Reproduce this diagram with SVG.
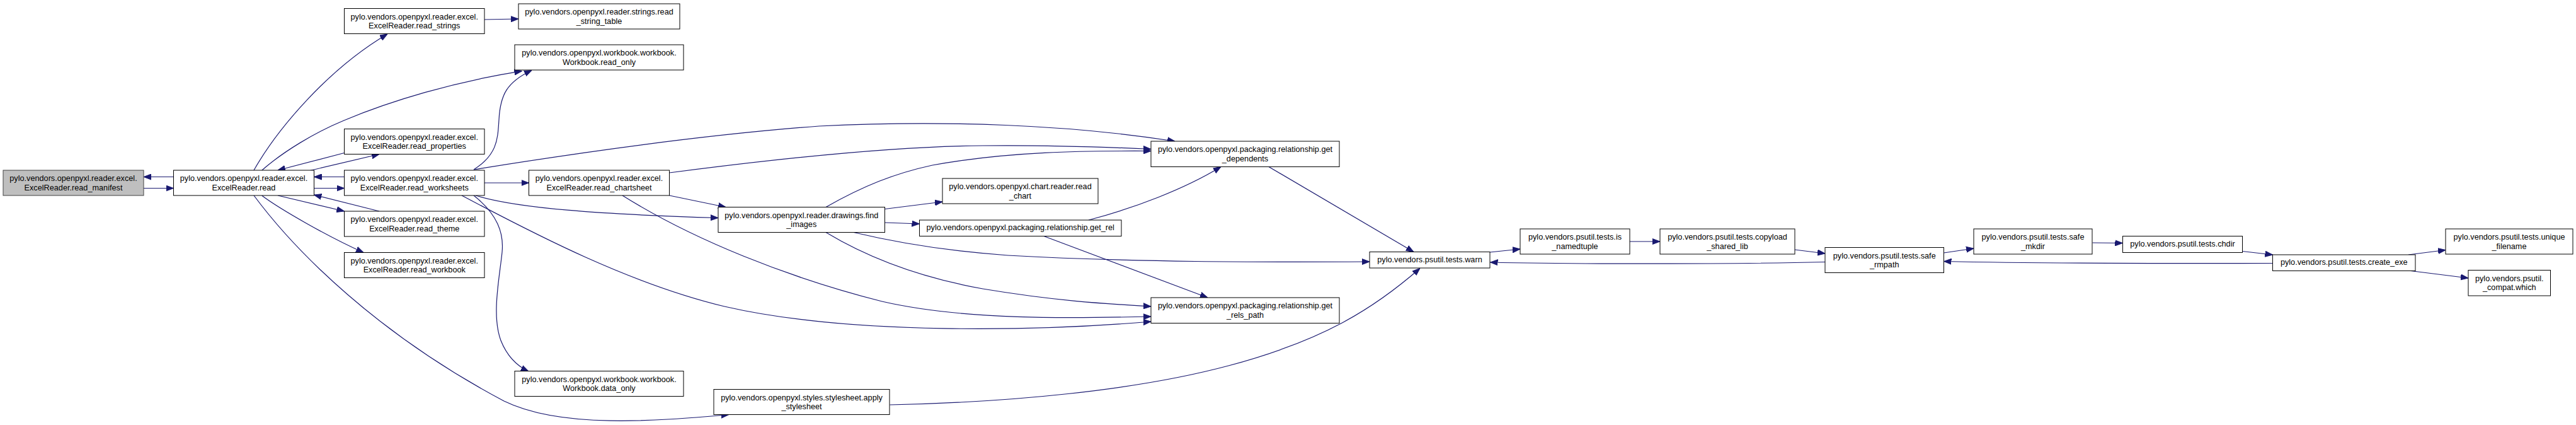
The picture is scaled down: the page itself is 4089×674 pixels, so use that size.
<svg xmlns="http://www.w3.org/2000/svg" width="4089" height="674" viewBox="0 0 4089 674">
<style>
.node rect{fill:#ffffff;stroke:#000000;stroke-width:1}
.node.root rect{fill:#bfbfbf;stroke:#404040}
.node text{font-family:"Liberation Sans",Arial,sans-serif;font-size:12.7px;text-anchor:middle;fill:#000000}
.edge{fill:none;stroke:#191970;stroke-width:1.2;marker-end:url(#ah)}
</style>
<defs>
<marker id="ah" viewBox="0 0 12 10" refX="12" refY="5" markerWidth="12" markerHeight="10" markerUnits="userSpaceOnUse" orient="auto">
<path d="M0,0.5 L12,5 L0,9.5 z" fill="#191970" stroke="#191970" stroke-width="1"/>
</marker>
</defs>
<rect x="0" y="0" width="4089" height="674" fill="#ffffff"/>
<g id="connectors">
<path class="edge" d="M275.5,280.5 L228,280.5"/>
<path class="edge" d="M228,298.5 L275.5,298.5"/>
<path class="edge" d="M403,270 C440,205 520,110 615,54"/>
<path class="edge" d="M769,31 L823,30"/>
<path class="edge" d="M415.8,270 C450,240 500,210 546,191 C620,160 720,130 828.5,112.6"/>
<path class="edge" d="M546.5,242.5 L441,270"/>
<path class="edge" d="M492,270.5 L602,244.5"/>
<path class="edge" d="M546.5,280.5 L498.5,280.5"/>
<path class="edge" d="M498.5,298.5 L546.5,298.5"/>
<path class="edge" d="M441,310 L546.5,335"/>
<path class="edge" d="M602,335 L498.5,309"/>
<path class="edge" d="M415.8,310.3 C445,332 520,375 577,400.5"/>
<path class="edge" d="M403,310 C470,400 600,530 800,636 C890,680 1040,668 1157,657.5"/>
<path class="edge" d="M752,269 C790,245 790,220 792,190 C794,150 805,130 844,111.5"/>
<path class="edge" d="M752,269 C900,245 1100,215 1300,200 C1500,190 1700,198 1865,224"/>
<path class="edge" d="M755,310 C820,330 950,340 1140,345.5"/>
<path class="edge" d="M769,290 L839.5,290"/>
<path class="edge" d="M752,310 C790,340 800,370 797,400 C793,440 780,500 795,540 C805,565 820,580 839,589"/>
<path class="edge" d="M1062.5,274 C1200,256 1400,232 1560,231 C1650,230 1750,233 1827,236.5"/>
<path class="edge" d="M1311,328.5 C1370,295 1420,275 1480,262 C1600,240 1720,239 1827,239.5"/>
<path class="edge" d="M1062.5,310 L1152,328.5"/>
<path class="edge" d="M988,310 C1100,380 1250,440 1400,478 C1530,508 1700,505 1827,502"/>
<path class="edge" d="M733,310 C850,372 1000,450 1150,486 C1350,532 1650,525 1827,510"/>
<path class="edge" d="M1404.5,331.5 L1496,320"/>
<path class="edge" d="M1404.5,353 L1459.5,355"/>
<path class="edge" d="M1355,368.5 C1420,384 1500,398 1600,405 C1800,416 2000,416 2174,415"/>
<path class="edge" d="M1311,368.5 C1380,410 1460,440 1560,458 C1680,478 1760,482 1827,486"/>
<path class="edge" d="M1728,349 C1800,330 1880,300 1938,264.5"/>
<path class="edge" d="M1657,374.5 L1917,472"/>
<path class="edge" d="M2014,264.5 L2244,399.5"/>
<path class="edge" d="M1412.5,642 C1600,638 1800,620 1950,580 C2100,540 2180,490 2254,425.5"/>
<path class="edge" d="M2365,400 L2413,395"/>
<path class="edge" d="M2587,383 L2635,383"/>
<path class="edge" d="M2849,396 L2897,402"/>
<path class="edge" d="M2897,415.5 C2750,419 2500,419 2365.5,416"/>
<path class="edge" d="M3085.5,401 L3133,394"/>
<path class="edge" d="M3321.5,385 L3369.5,385.5"/>
<path class="edge" d="M3559.5,398.5 L3607.5,404"/>
<path class="edge" d="M3607.5,417.5 C3400,418 3200,417 3085.5,414.5"/>
<path class="edge" d="M3823,404 L3882,396.5"/>
<path class="edge" d="M3826.5,429.5 L3918,441"/>
</g>
<g id="read_manifest" class="node root"><rect x="5" y="270" width="223" height="40"/><text x="116.5" y="287">pylo.vendors.openpyxl.reader.excel.</text><text x="116.5" y="301.5">ExcelReader.read_manifest</text></g>
<g id="read" class="node"><rect x="275.5" y="270" width="223" height="40"/><text x="387" y="287">pylo.vendors.openpyxl.reader.excel.</text><text x="387" y="301.5">ExcelReader.read</text></g>
<g id="read_strings" class="node"><rect x="546.5" y="13.5" width="222.5" height="40"/><text x="657.75" y="30.5">pylo.vendors.openpyxl.reader.excel.</text><text x="657.75" y="45">ExcelReader.read_strings</text></g>
<g id="read_properties" class="node"><rect x="546.5" y="204.5" width="222.5" height="40"/><text x="657.75" y="221.5">pylo.vendors.openpyxl.reader.excel.</text><text x="657.75" y="236">ExcelReader.read_properties</text></g>
<g id="read_worksheets" class="node"><rect x="546.5" y="270" width="222.5" height="40"/><text x="657.75" y="287">pylo.vendors.openpyxl.reader.excel.</text><text x="657.75" y="301.5">ExcelReader.read_worksheets</text></g>
<g id="read_theme" class="node"><rect x="546.5" y="335" width="222.5" height="40"/><text x="657.75" y="352">pylo.vendors.openpyxl.reader.excel.</text><text x="657.75" y="366.5">ExcelReader.read_theme</text></g>
<g id="read_workbook" class="node"><rect x="546.5" y="400.5" width="222.5" height="40"/><text x="657.75" y="417.5">pylo.vendors.openpyxl.reader.excel.</text><text x="657.75" y="432">ExcelReader.read_workbook</text></g>
<g id="read_string_table" class="node"><rect x="823" y="6" width="256" height="40"/><text x="951" y="23">pylo.vendors.openpyxl.reader.strings.read</text><text x="951" y="37.5">_string_table</text></g>
<g id="read_only" class="node"><rect x="817" y="71" width="268" height="40"/><text x="951" y="88">pylo.vendors.openpyxl.workbook.workbook.</text><text x="951" y="102.5">Workbook.read_only</text></g>
<g id="read_chartsheet" class="node"><rect x="839.5" y="270" width="223" height="40"/><text x="951" y="287">pylo.vendors.openpyxl.reader.excel.</text><text x="951" y="301.5">ExcelReader.read_chartsheet</text></g>
<g id="data_only" class="node"><rect x="817" y="588.5" width="268" height="40"/><text x="951" y="605.5">pylo.vendors.openpyxl.workbook.workbook.</text><text x="951" y="620">Workbook.data_only</text></g>
<g id="find_images" class="node"><rect x="1140" y="328.5" width="264.5" height="40"/><text x="1272.25" y="345.5">pylo.vendors.openpyxl.reader.drawings.find</text><text x="1272.25" y="360">_images</text></g>
<g id="apply_stylesheet" class="node"><rect x="1133" y="617.5" width="279" height="40"/><text x="1272.5" y="634.5">pylo.vendors.openpyxl.styles.stylesheet.apply</text><text x="1272.5" y="649">_stylesheet</text></g>
<g id="read_chart" class="node"><rect x="1496" y="283" width="247" height="40"/><text x="1619.5" y="300">pylo.vendors.openpyxl.chart.reader.read</text><text x="1619.5" y="314.5">_chart</text></g>
<g id="get_rel" class="node"><rect x="1459.5" y="349" width="320.5" height="25.5"/><text x="1619.75" y="365">pylo.vendors.openpyxl.packaging.relationship.get_rel</text></g>
<g id="get_dependents" class="node"><rect x="1827" y="224" width="299" height="40.5"/><text x="1976.5" y="241">pylo.vendors.openpyxl.packaging.relationship.get</text><text x="1976.5" y="255.5">_dependents</text></g>
<g id="get_rels_path" class="node"><rect x="1827" y="472" width="299" height="40.5"/><text x="1976.5" y="489">pylo.vendors.openpyxl.packaging.relationship.get</text><text x="1976.5" y="503.5">_rels_path</text></g>
<g id="warn" class="node"><rect x="2174" y="399.5" width="191" height="25.5"/><text x="2269.5" y="415.5">pylo.vendors.psutil.tests.warn</text></g>
<g id="is_namedtuple" class="node"><rect x="2413" y="363" width="174" height="40"/><text x="2500" y="380">pylo.vendors.psutil.tests.is</text><text x="2500" y="394.5">_namedtuple</text></g>
<g id="copyload_shared_lib" class="node"><rect x="2635" y="363" width="214" height="40"/><text x="2742" y="380">pylo.vendors.psutil.tests.copyload</text><text x="2742" y="394.5">_shared_lib</text></g>
<g id="safe_rmpath" class="node"><rect x="2897" y="392.5" width="188.5" height="40"/><text x="2991.25" y="409.5">pylo.vendors.psutil.tests.safe</text><text x="2991.25" y="424">_rmpath</text></g>
<g id="safe_mkdir" class="node"><rect x="3133" y="363" width="188" height="40"/><text x="3227" y="380">pylo.vendors.psutil.tests.safe</text><text x="3227" y="394.5">_mkdir</text></g>
<g id="chdir" class="node"><rect x="3369.5" y="374.5" width="190" height="26"/><text x="3464.5" y="390.5">pylo.vendors.psutil.tests.chdir</text></g>
<g id="create_exe" class="node"><rect x="3607.5" y="404" width="226.5" height="25.5"/><text x="3720.75" y="420">pylo.vendors.psutil.tests.create_exe</text></g>
<g id="unique_filename" class="node"><rect x="3882" y="363" width="202" height="40"/><text x="3983" y="380">pylo.vendors.psutil.tests.unique</text><text x="3983" y="394.5">_filename</text></g>
<g id="compat_which" class="node"><rect x="3918" y="428.5" width="130.5" height="40.5"/><text x="3983.25" y="445.5">pylo.vendors.psutil.</text><text x="3983.25" y="460">_compat.which</text></g>
</svg>
